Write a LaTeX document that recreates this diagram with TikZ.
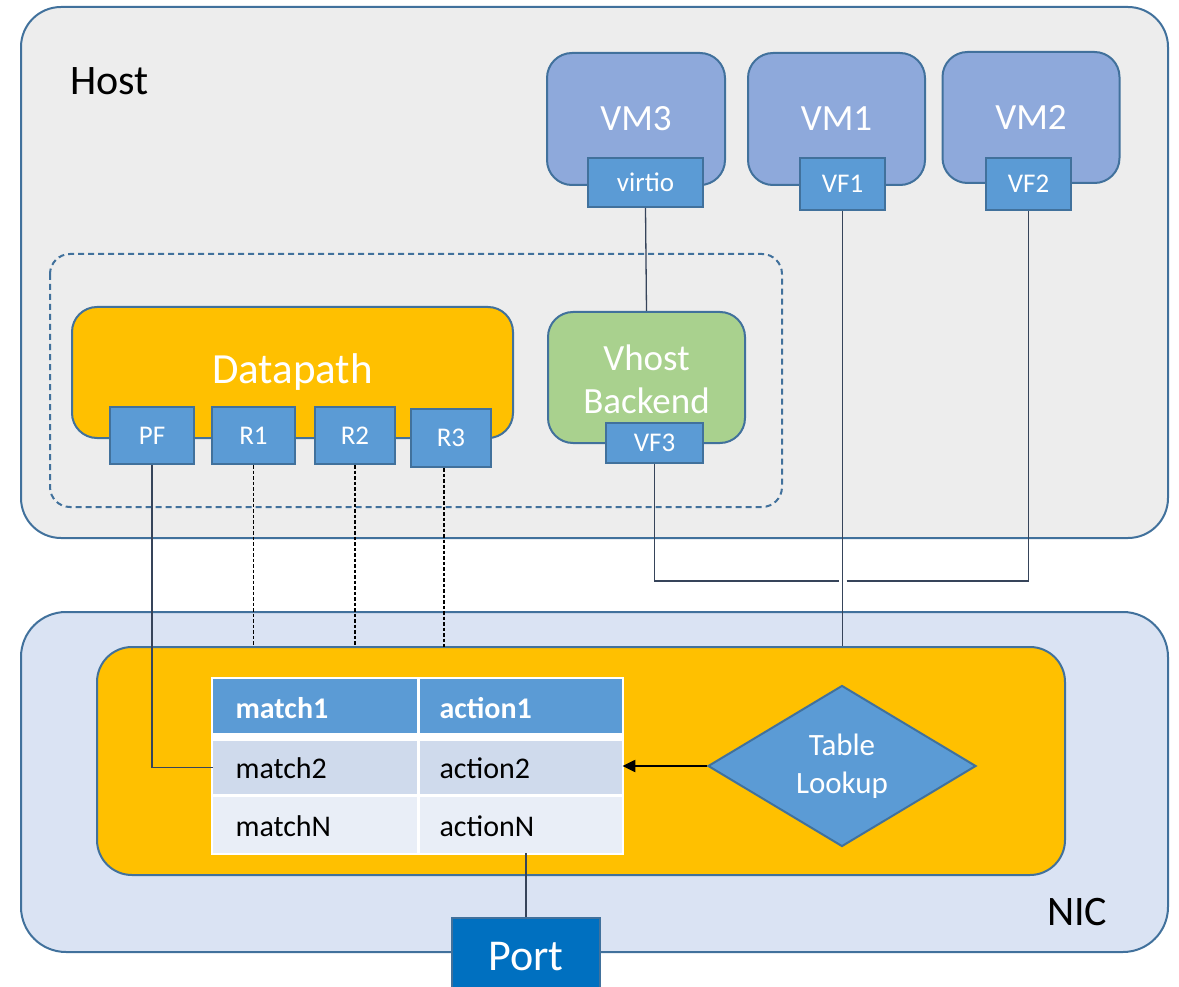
\documentclass[tikz,border=0pt]{standalone}
\usepackage{fontspec}
\setmainfont{Carlito}
\usetikzlibrary{shapes.geometric,arrows.meta}
\definecolor{hostfill}{HTML}{EDEDED}
\definecolor{edge}{HTML}{41719C}
\definecolor{vmfill}{HTML}{8EA9DB}
\definecolor{ifcfill}{HTML}{5B9BD5}
\definecolor{gold}{HTML}{FFC000}
\definecolor{vhostfill}{HTML}{A9D18E}
\definecolor{nicfill}{HTML}{DAE3F3}
\definecolor{portblue}{HTML}{0070C0}
\definecolor{wire}{HTML}{36445A}
\definecolor{rowa}{HTML}{CFDAEC}
\definecolor{rowb}{HTML}{E9EEF7}
\tikzset{
  box/.style={draw=edge, line width=2, rectangle, inner sep=0pt},
  vmbox/.style={box, fill=vmfill, rounded corners=25, text=white, font=\fontsize{37}{40}\selectfont},
  ifc/.style={box, fill=ifcfill, text=white, font=\fontsize{27}{30}\selectfont},
  cell/.style={rectangle, inner sep=0pt, anchor=north west},
  celltext/.style={anchor=west, font=\fontsize{30}{34}\selectfont},
  wireline/.style={draw=wire, line width=1.3},
  dashwire/.style={draw=black, line width=1.2, dash pattern=on 3.5 off 2},
}
\begin{document}
\begin{tikzpicture}[x=1pt, y=-1pt]
\useasboundingbox (0,0) rectangle (1179,987);
\clip (0,0) rectangle (1179,987);

% ---------- host ----------
\node[box, fill=hostfill, rounded corners=40, minimum width=1147, minimum height=531] (host) at (594.5,272.5) {};
\node[anchor=west, font=\fontsize{42}{48}\selectfont, inner sep=0pt] (hostlbl) at (70,81) {Host};

% virtual machines
\node[vmbox, minimum width=178, minimum height=132] (vm3) at (636,119) {VM3};
\node[vmbox, minimum width=177, minimum height=132] (vm1) at (836.5,119) {VM1};
\node[vmbox, minimum width=177, minimum height=131] (vm2) at (1031,117.5) {VM2};
\node[ifc, minimum width=115, minimum height=49] (virtio) at (645.5,182.5) {virtio};
\node[ifc, minimum width=85, minimum height=52] (vf1) at (842.5,184) {VF1};
\node[ifc, minimum width=85, minimum height=52] (vf2) at (1028.5,184) {VF2};

% software switch group
\draw[draw=edge, line width=2, dash pattern=on 6 off 4, rounded corners=20] (50,254) rectangle (782,507);
\node[box, fill=gold, rounded corners=25, minimum width=441, minimum height=131, text=white,
      font=\fontsize{43}{48}\selectfont] (dp) at (292.5,372.5) {Datapath};
\node[box, fill=vhostfill, rounded corners=25, minimum width=197, minimum height=131] (vhost) at (646.5,377.5) {};
\node[text=white, align=center, font=\fontsize{37}{43}\selectfont, inner sep=0pt] (vhostlbl) at (646.5,379) {Vhost\\Backend};
\node[ifc, minimum width=97, minimum height=40] (vf3) at (654.5,443) {VF3};
\node[ifc, minimum width=84, minimum height=57] (pf) at (152,435.5) {PF};
\node[ifc, minimum width=83, minimum height=57] (r1) at (253.5,435.5) {R1};
\node[ifc, minimum width=80, minimum height=57] (r2) at (355,435.5) {R2};
\node[ifc, minimum width=80, minimum height=58] (r3) at (451,438) {R3};

% ---------- NIC ----------
\node[box, fill=nicfill, rounded corners=45, minimum width=1147, minimum height=340] (nic) at (594.5,782) {};
\node[anchor=west, font=\fontsize{42}{48}\selectfont, inner sep=0pt] (niclbl) at (1047,912) {NIC};
\node[box, fill=gold, rounded corners=35, minimum width=968, minimum height=228] (nicin) at (581,761) {};

% flow table
\fill[white] (211,677) rectangle (624,855);
\node[cell, fill=ifcfill, minimum width=203.5, minimum height=54] (m1) at (213,679) {};
\node[cell, fill=ifcfill, minimum width=202.5, minimum height=54] (a1) at (419.5,679) {};
\node[cell, fill=rowa, minimum width=203.5, minimum height=53] (m2) at (213,741) {};
\node[cell, fill=rowa, minimum width=202.5, minimum height=53] (a2) at (419.5,741) {};
\node[cell, fill=rowb, minimum width=203.5, minimum height=56.5] (m3) at (213,796.5) {};
\node[cell, fill=rowb, minimum width=202.5, minimum height=56.5] (a3) at (419.5,796.5) {};
\node[celltext, text=white, font=\fontsize{30}{34}\selectfont\bfseries] at (232,708) {match1};
\node[celltext, text=white, font=\fontsize{30}{34}\selectfont\bfseries] at (436,708) {action1};
\node[celltext] at (232,768) {match2};
\node[celltext] at (436,768) {action2};
\node[celltext] at (232,826) {matchN};
\node[celltext] at (436,826) {actionN};

% lookup
\node[diamond, draw=edge, line width=2, fill=ifcfill, aspect=1.66, minimum width=268, minimum height=161,
      inner sep=0pt, text=white, align=center, font=\fontsize{31}{38}\selectfont] (lookup) at (842,766) {Table\\Lookup};
\draw[line width=2.2, -{Triangle[length=13, width=12]}] (lookup.west) -- (lookup.west -| a2.east);

% port
\node[box, fill=portblue, minimum width=148, minimum height=76] (port) at (526,956) {};
\node[text=white, font=\fontsize{44}{48}\selectfont, inner sep=0pt] (portlbl) at (526,957) {Port};

% ---------- connectors ----------
\draw[wireline] (virtio.south) -- (vhost.north);
\coordinate (cross) at (842.5,581);
\draw[wireline] (vf1.south) -- (vf1.south |- nicin.north);
\draw[wireline] (vf3.south) |- ([xshift=-4]cross);
\draw[wireline] ([xshift=4]cross) -| (vf2.south);
\draw[wireline] (pf.south) |- (m2.west);
\draw[dashwire] (r1.south) -- (r1.south |- nicin.north);
\draw[dashwire] (r2.south) -- (r2.south |- nicin.north);
\draw[dashwire] (r3.south -| 444,0) -- (444,647);
\draw[wireline] (port.north) -- (port.north |- a3.south);
\end{tikzpicture}
\end{document}
